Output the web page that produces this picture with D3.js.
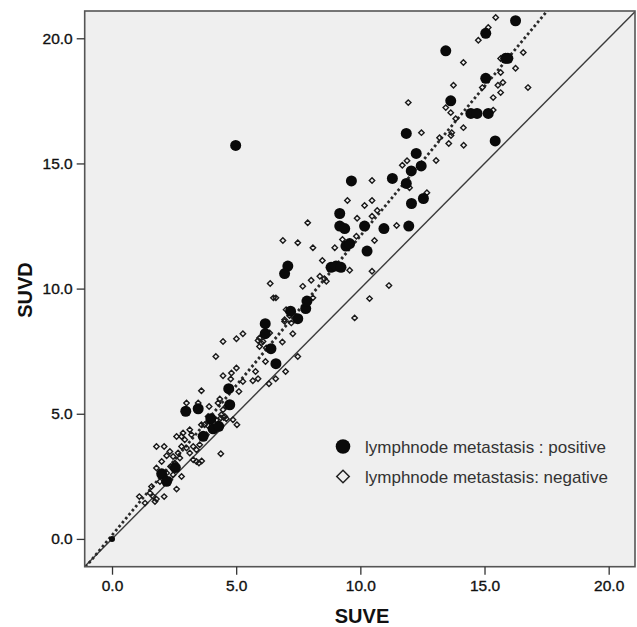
<!DOCTYPE html>
<html lang="en">
<meta charset="utf-8">
<style type="text/css">
  body { margin: 0; background: #fff; }
  svg { display: block; }
  .tick text { font-family: "Liberation Sans", Arial, sans-serif; font-size: 15.5px; font-weight: normal; fill: #111; stroke: #111; stroke-width: 0.35px; }
  .tick line { stroke: #333; stroke-width: 1.3px; }
  .title { font-family: "Liberation Sans", Arial, sans-serif; font-size: 20px; font-weight: bold; fill: #111; }
  .legend text { font-family: "Liberation Sans", Arial, sans-serif; font-size: 17px; fill: #333; }
</style>
<body>
<script src="https://cdn.jsdelivr.net/npm/d3@7"></script>
<script>
// SUVE / SUVD pairs
var positive = [
  [0, 0],
  [2.0, 2.6], [2.2, 2.3], [2.55, 2.85],
  [2.97, 5.1], [3.47, 5.2], [3.67, 4.1], [3.98, 4.8], [4.07, 4.4], [4.3, 4.5], [4.7, 6.0], [4.74, 5.36],
  [4.98, 15.72],
  [6.17, 8.6], [6.17, 8.2], [6.4, 7.6], [6.6, 7.0],
  [7.08, 10.9], [6.95, 10.6], [7.19, 9.1], [7.48, 8.8], [7.8, 9.2], [7.85, 9.5],
  [8.82, 10.85], [9.02, 10.9], [9.22, 10.85],
  [9.17, 13.0], [9.17, 12.5], [9.37, 12.4], [9.42, 11.7], [9.57, 11.8], [9.64, 14.3],
  [10.17, 12.5], [10.27, 11.5], [10.95, 12.4], [11.29, 14.4], [11.85, 14.2], [11.85, 16.2],
  [11.95, 12.5], [12.05, 14.7], [12.06, 13.4], [12.25, 15.4], [12.45, 14.9], [12.54, 13.6],
  [13.44, 19.5], [13.64, 17.5], [14.45, 17.0], [14.7, 17.0], [15.15, 17.0], [15.05, 18.4],
  [15.43, 15.9], [15.05, 20.2], [15.85, 19.2], [15.94, 19.2], [16.25, 20.7]
];

var negative = [
  [15.45, 20.83], [15.15, 20.43], [14.75, 19.92], [14.15, 19.03], [16.56, 19.43], [15.65, 19.19],
  [16.25, 18.8], [15.65, 18.63], [13.75, 18.12], [15.74, 18.23], [15.54, 18.12], [14.91, 18.03],
  [16.75, 18.03], [15.65, 17.83], [15.35, 17.63], [13.44, 17.23], [13.64, 17.03], [15.35, 17.13],
  [13.84, 16.79], [14.15, 16.43], [13.68, 16.23],
  [11.93, 17.43], [14.16, 15.73], [13.65, 16.12], [13.56, 15.8], [13.19, 16.03], [12.46, 16.23],
  [13.05, 15.12], [11.69, 14.93], [11.88, 15.11], [11.98, 14.03], [10.47, 14.32], [12.68, 13.83],
  [9.48, 13.52], [10.17, 13.32], [10.47, 13.52], [10.68, 13.12], [9.87, 12.81], [10.47, 12.89],
  [11.46, 12.52], [10.57, 11.92], [8.97, 11.63], [8.47, 11.12], [9.57, 10.73], [10.47, 10.69],
  [11.15, 10.12], [10.37, 9.6], [9.77, 8.83], [8.37, 10.49], [8.63, 10.29], [9.28, 11.96], [9.84, 12.09],
  [7.88, 12.63], [6.88, 11.92], [7.48, 11.83], [8.09, 11.63], [6.37, 10.2], [7.68, 10.09],
  [8.02, 10.33], [8.55, 10.39], [6.5, 9.63], [6.6, 9.63], [8.09, 9.63],
  [7.01, 9.16], [7.15, 8.92], [6.95, 8.69], [7.22, 8.63], [6.35, 8.23], [6.08, 7.89], [5.94, 8.03],
  [5.27, 8.2], [5.01, 8.0], [4.47, 7.89], [4.18, 7.29], [5.88, 7.93], [6.01, 7.83], [5.94, 7.69],
  [6.21, 7.63], [6.18, 7.09], [5.78, 6.69], [5.67, 6.32], [5.88, 6.4], [6.32, 6.2], [6.59, 6.4],
  [5.01, 6.83], [4.81, 6.63], [4.47, 6.52], [4.78, 6.39], [5.27, 6.29], [5.11, 5.89], [3.6, 5.92],
  [3.0, 5.43], [3.47, 5.43], [4.34, 5.59], [4.27, 5.43], [3.91, 5.29], [4.47, 5.16], [4.4, 4.96],
  [4.54, 4.89], [3.87, 4.89], [4.87, 4.76], [5.03, 4.56], [4.0, 4.43], [3.8, 4.16], [3.6, 4.56],
  [4.38, 4.83], [3.13, 4.36], [2.86, 4.23], [3.2, 4.16],
  [6.86, 7.87], [6.99, 6.69], [7.28, 8.2], [7.48, 7.29], [6.95, 8.76],
  [2.6, 4.09], [2.8, 4.09], [2.93, 3.96], [2.8, 3.69], [3.27, 3.69], [3.4, 3.56], [1.79, 3.69],
  [2.1, 3.69], [2.0, 3.09], [2.33, 3.49], [2.46, 3.29], [2.2, 3.32], [2.66, 3.43], [2.73, 3.23],
  [3.0, 3.63], [3.13, 3.43], [3.27, 3.16], [3.4, 3.09], [3.5, 3.03], [4.38, 3.4], [2.8, 2.49],
  [2.6, 1.99], [2.1, 1.69], [1.79, 2.83], [1.1, 1.69], [1.33, 1.43], [1.53, 1.83], [1.59, 2.09],
  [1.66, 1.69], [1.73, 1.49], [1.79, 1.59], [1.93, 2.29], [2.13, 2.43], [2.2, 2.63], [2.33, 2.36],
  [2.46, 2.56], [2.36, 2.89], [2.53, 3.03], [4.07, 4.83], [4.18, 4.49], [3.87, 4.52], [3.73, 4.56],
  [3.53, 3.76], [3.61, 3.11], [4.2, 4.75], [4.5, 4.85], [4.6, 4.8], [4.6, 5.3]
];

var ticks = [0, 5, 10, 15, 20];
var fitLine = { intercept: 0.15, slope: 1.195 };
var legendLabels = ["lymphnode metastasis : positive", "lymphnode metastasis: negative"];

var width = 637, height = 627;
var plotLeft = 84.7, plotTop = 11, plotRight = 635, plotBottom = 566.7;

var svg = d3.select("body").append("svg")
    .attr("width", width)
    .attr("height", height);

var x = d3.scaleLinear().domain([-1.1, 21.06]).range([plotLeft, plotRight]);
var y = d3.scaleLinear().domain([-1.11, 21.09]).range([plotBottom, plotTop]);

svg.append("defs").append("clipPath").attr("id", "plotclip")
    .append("rect")
    .attr("x", plotLeft).attr("y", plotTop)
    .attr("width", plotRight - plotLeft).attr("height", plotBottom - plotTop);

// plot background
svg.append("rect")
    .attr("x", plotLeft).attr("y", plotTop)
    .attr("width", plotRight - plotLeft).attr("height", plotBottom - plotTop)
    .attr("fill", "#efefef");

var plot = svg.append("g").attr("clip-path", "url(#plotclip)");

// identity line
plot.append("line")
    .attr("x1", x(-1.1)).attr("y1", y(-1.1))
    .attr("x2", x(21.06)).attr("y2", y(21.06))
    .attr("stroke", "#3a3a3a")
    .attr("stroke-width", 1.4);

// regression line (dotted)
plot.append("line")
    .attr("x1", x(-1.2)).attr("y1", y(fitLine.intercept + fitLine.slope * -1.2))
    .attr("x2", x(18)).attr("y2", y(fitLine.intercept + fitLine.slope * 18))
    .attr("stroke", "#2a2a2a")
    .attr("stroke-width", 2.8)
    .attr("stroke-dasharray", "2.6,2.6");

var diamond = d3.symbol().type(d3.symbolDiamond2).size(19);

plot.selectAll(".neg")
    .data(negative)
    .enter().append("path")
    .attr("class", "neg")
    .attr("d", diamond)
    .attr("transform", function (d) { return "translate(" + x(d[0]) + "," + y(d[1]) + ")"; })
    .attr("fill", "none")
    .attr("stroke", "#1a1a1a")
    .attr("stroke-width", 1.4);

plot.selectAll(".pos")
    .data(positive)
    .enter().append("circle")
    .attr("class", "pos")
    .attr("cx", function (d) { return x(d[0]); })
    .attr("cy", function (d) { return y(d[1]); })
    .attr("r", function (d) { return d[0] === 0 ? 3 : 5.5; })
    .attr("fill", "#0a0a0a");

// frame
svg.append("rect")
    .attr("x", plotLeft).attr("y", plotTop)
    .attr("width", plotRight - plotLeft).attr("height", plotBottom - plotTop)
    .attr("fill", "none")
    .attr("stroke", "#555")
    .attr("stroke-width", 1.6);

var fmt = d3.format(".1f");

var xAxis = svg.append("g")
    .attr("transform", "translate(0," + plotBottom + ")")
    .call(d3.axisBottom(x).tickValues(ticks).tickFormat(fmt).tickSize(8).tickSizeOuter(0).tickPadding(5));
xAxis.select(".domain").remove();

var yAxis = svg.append("g")
    .attr("transform", "translate(" + plotLeft + ",0)")
    .call(d3.axisLeft(y).tickValues(ticks).tickFormat(fmt).tickSize(8).tickSizeOuter(0).tickPadding(4));
yAxis.select(".domain").remove();

svg.append("text")
    .attr("class", "title")
    .attr("x", 362).attr("y", 623)
    .attr("text-anchor", "middle")
    .text("SUVE");

svg.append("text")
    .attr("class", "title")
    .attr("transform", "translate(32,290) rotate(-90)")
    .attr("text-anchor", "middle")
    .text("SUVD");

// legend
var legend = svg.append("g").attr("class", "legend");
legend.append("circle")
    .attr("cx", 343).attr("cy", 446.5).attr("r", 7.3)
    .attr("fill", "#0a0a0a");
legend.append("path")
    .attr("d", d3.symbol().type(d3.symbolDiamond2).size(100))
    .attr("transform", "translate(343,476.5)")
    .attr("fill", "none")
    .attr("stroke", "#222")
    .attr("stroke-width", 1.5);
legend.selectAll("text")
    .data(legendLabels)
    .enter().append("text")
    .attr("x", 365)
    .attr("y", function (d, i) { return 452.5 + i * 30; })
    .text(function (d) { return d; });
</script>
</body>
</html>
